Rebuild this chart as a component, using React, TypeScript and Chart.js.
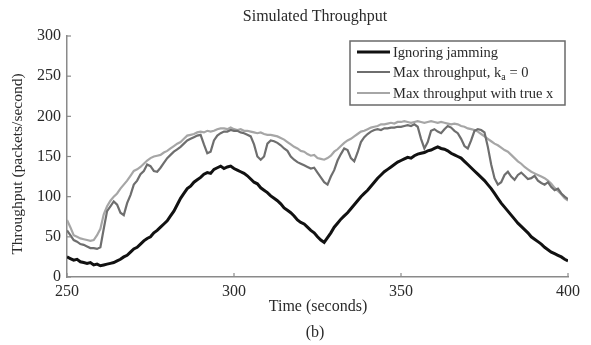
import React, { useEffect, useRef } from "react";
import { Chart, registerables } from "chart.js";

Chart.register(...registerables);

const startTime = 250;
const xTicks = [250, 300, 350, 400];
const yTicks = [0, 50, 100, 150, 200, 250, 300];

const ignoringJamming = [
  25, 23, 21, 22, 19, 18, 17, 18, 15, 16, 14, 15, 16, 17, 18, 20, 22, 25, 27, 31,
  35, 37, 41, 45, 48, 50, 55, 58, 62, 66, 70, 76, 82, 90, 98, 104, 110, 113, 118, 121,
  124, 128, 130, 129, 134, 136, 138, 135, 137, 138, 135, 133, 131, 129, 126, 122, 118, 116, 111, 108,
  105, 101, 98, 95, 91, 86, 83, 80, 76, 71, 68, 66, 62, 58, 55, 50, 46, 43, 49, 55,
  62, 67, 72, 76, 80, 85, 90, 95, 100, 104, 108, 113, 118, 123, 127, 131, 134, 137, 140, 143,
  145, 147, 149, 148, 151, 153, 154, 155, 157, 158, 160, 162, 160, 159, 157, 154, 152, 150, 148, 144,
  140, 136, 132, 128, 124, 120, 115, 110, 104, 98, 92, 87, 82, 77, 72, 67, 63, 59, 55, 50,
  47, 44, 41, 37, 34, 31, 29, 27, 25, 22, 20,
];

const maxThroughputKa0 = [
  58, 52, 46, 44, 41, 40, 38, 36, 36, 35, 37, 60, 82, 88, 94, 90, 80, 77, 92, 102,
  115, 120, 128, 132, 140, 138, 132, 131, 136, 142, 148, 152, 156, 159, 162, 166, 170, 172, 174, 176,
  177, 165, 154, 156, 170, 176, 179, 181, 181, 183, 182, 182, 180, 179, 177, 175, 165, 150, 146, 150,
  166, 170, 169, 167, 164, 160, 157, 150, 146, 143, 141, 139, 137, 135, 136, 130, 124, 118, 115, 125,
  133, 145, 153, 160, 158, 148, 144, 155, 168, 174, 178, 181, 183, 184, 183, 185, 185, 186, 186, 187,
  187, 188, 189, 188, 190, 187, 172, 160, 168, 182, 184, 181, 179, 184, 188, 186, 182, 179, 172, 163,
  160, 170, 182, 184, 183, 180, 162, 140, 123, 115, 118, 127, 131, 125, 121, 127, 130, 126, 122, 123,
  126, 120, 117, 115, 118, 112, 108, 110, 104, 100, 97,
];

const maxThroughputTrueX = [
  71, 62, 52, 50, 48, 47, 46, 45, 46, 52, 60, 78, 88, 95, 100, 104, 110, 115, 120, 126,
  132, 134, 137, 141, 145, 148, 150, 151, 152, 155, 157, 160, 163, 166, 168, 172, 176, 177, 178, 180,
  181, 180, 182, 181, 182, 184, 185, 185, 184, 186, 184, 183, 184, 182, 182, 181, 180, 179, 180, 178,
  177, 177, 176, 175, 173, 171, 168, 165, 162, 160, 157, 156, 153, 151, 152, 148, 147, 146, 148, 151,
  156, 159, 163, 167, 170, 172, 175, 178, 181, 182, 184, 186, 187, 188, 190, 190, 191, 192, 191, 193,
  193, 194, 193, 192, 193, 194, 193, 192, 193, 194, 193, 192, 193, 192, 191, 190, 191, 190, 188, 187,
  185, 184, 183, 181, 178, 175, 172, 169, 166, 164, 161, 158, 156, 152, 148, 144, 141, 137, 134, 131,
  129, 127, 125, 123, 120, 116, 111, 107, 103, 98, 95,
];

const seriesNames = ["Ignoring jamming", "Max throughput, k", "Max throughput with true x"];
const seriesColors = ["#111111", "#6e6e6e", "#a6a6a6"];
const seriesWidths = [3, 2.2, 2.2];

const FONT = "'Liberation Serif', 'DejaVu Serif', serif";
const TEXT = "#2a2a2a";

const toPoints = (arr: number[]) => arr.map((v, i) => ({ x: startTime + i, y: v }));

const decorPlugin = {
  id: "decor",
  afterDraw(chart: any) {
    const ctx = chart.ctx as CanvasRenderingContext2D;
    const area = chart.chartArea;
    const xs = chart.scales.x;
    const ys = chart.scales.y;
    ctx.save();
    // inward tick marks
    ctx.strokeStyle = "#8a8a8a";
    ctx.lineWidth = 1.2;
    xTicks.forEach((t) => {
      const px = xs.getPixelForValue(t);
      ctx.beginPath();
      ctx.moveTo(px, area.bottom);
      ctx.lineTo(px, area.bottom - 4);
      ctx.stroke();
    });
    yTicks.forEach((t) => {
      const py = ys.getPixelForValue(t);
      ctx.beginPath();
      ctx.moveTo(area.left, py);
      ctx.lineTo(area.left + 4, py);
      ctx.stroke();
    });

    // title
    ctx.fillStyle = TEXT;
    ctx.textAlign = "center";
    ctx.textBaseline = "middle";
    ctx.font = `16px ${FONT}`;
    ctx.fillText("Simulated Throughput", 315, 17);
    // x title
    ctx.font = `16px ${FONT}`;
    ctx.fillText("Time (seconds)", 318, 307);
    ctx.fillText("(b)", 315, 333);
    // y title
    ctx.save();
    ctx.translate(18, 164);
    ctx.rotate(-Math.PI / 2);
    ctx.font = `15.5px ${FONT}`;
    ctx.fillText("Throughput (packets/second)", 0, 0);
    ctx.restore();

    // legend
    const lx = 350, ly = 41, lw = 215, lh = 64;
    ctx.fillStyle = "#ffffff";
    ctx.fillRect(lx, ly, lw, lh);
    ctx.strokeStyle = "#6a6a6a";
    ctx.lineWidth = 1.5;
    ctx.strokeRect(lx, ly, lw, lh);
    const rows = [52, 72, 93];
    rows.forEach((ry, i) => {
      ctx.strokeStyle = seriesColors[i];
      ctx.lineWidth = seriesWidths[i];
      ctx.beginPath();
      ctx.moveTo(357, ry);
      ctx.lineTo(390, ry);
      ctx.stroke();
      ctx.fillStyle = TEXT;
      ctx.textAlign = "left";
      ctx.textBaseline = "middle";
      ctx.font = `14.5px ${FONT}`;
      const label = seriesNames[i];
      ctx.fillText(label, 393, ry + 1);
      if (i === 1) {
        const w = ctx.measureText(label).width;
        ctx.font = `10px ${FONT}`;
        ctx.fillText("a", 393 + w, ry + 5);
        const w2 = ctx.measureText("a").width;
        ctx.font = `14.5px ${FONT}`;
        ctx.fillText(" = 0", 393 + w + w2, ry + 1);
      }
    });
    ctx.restore();
  },
};

export default function App() {
  const ref = useRef<HTMLCanvasElement | null>(null);
  useEffect(() => {
    document.body.style.margin = "0";
    const canvas = ref.current;
    if (!canvas) return;
    const chart = new Chart(canvas, {
      type: "line",
      data: {
        datasets: [
          {
            label: seriesNames[0],
            data: toPoints(ignoringJamming),
            borderColor: seriesColors[0],
            borderWidth: seriesWidths[0],
            pointRadius: 0,
            tension: 0,
            order: 1,
          },
          {
            label: seriesNames[1],
            data: toPoints(maxThroughputKa0),
            borderColor: seriesColors[1],
            borderWidth: seriesWidths[1],
            pointRadius: 0,
            tension: 0,
            order: 2,
          },
          {
            label: seriesNames[2],
            data: toPoints(maxThroughputTrueX),
            borderColor: seriesColors[2],
            borderWidth: seriesWidths[2],
            pointRadius: 0,
            tension: 0,
            order: 3,
          },
        ],
      },
      options: {
        responsive: false,
        animation: false,
        events: [],
        layout: { padding: { left: 0, right: 23, top: 36, bottom: 0 } },
        plugins: {
          legend: { display: false },
          title: { display: false },
          tooltip: { enabled: false },
        },
        scales: {
          x: {
            type: "linear",
            min: 250,
            max: 400,
            afterBuildTicks: (s: any) => {
              s.ticks = xTicks.map((v) => ({ value: v }));
            },
            afterFit: (s: any) => {
              s.height = 68;
            },
            grid: { display: false, drawTicks: false, tickLength: 0 },
            border: { display: true, color: "#8a8a8a", width: 1.5 },
            ticks: {
              color: TEXT,
              font: { family: FONT, size: 16 },
              padding: 5,
              maxRotation: 0,
            },
          },
          y: {
            type: "linear",
            min: 0,
            max: 300,
            afterBuildTicks: (s: any) => {
              s.ticks = yTicks.map((v) => ({ value: v }));
            },
            afterFit: (s: any) => {
              s.width = 67;
            },
            grid: { display: false, drawTicks: false, tickLength: 0 },
            border: { display: true, color: "#8a8a8a", width: 1.5 },
            ticks: {
              color: TEXT,
              font: { family: FONT, size: 16 },
              padding: 6,
            },
          },
        },
      },
      plugins: [decorPlugin],
    } as any);
    return () => chart.destroy();
  }, []);
  return (
    <div style={{ position: "fixed", left: 0, top: 0, width: 591, height: 345 }}>
      <canvas ref={ref} width={591} height={345} />
    </div>
  );
}
